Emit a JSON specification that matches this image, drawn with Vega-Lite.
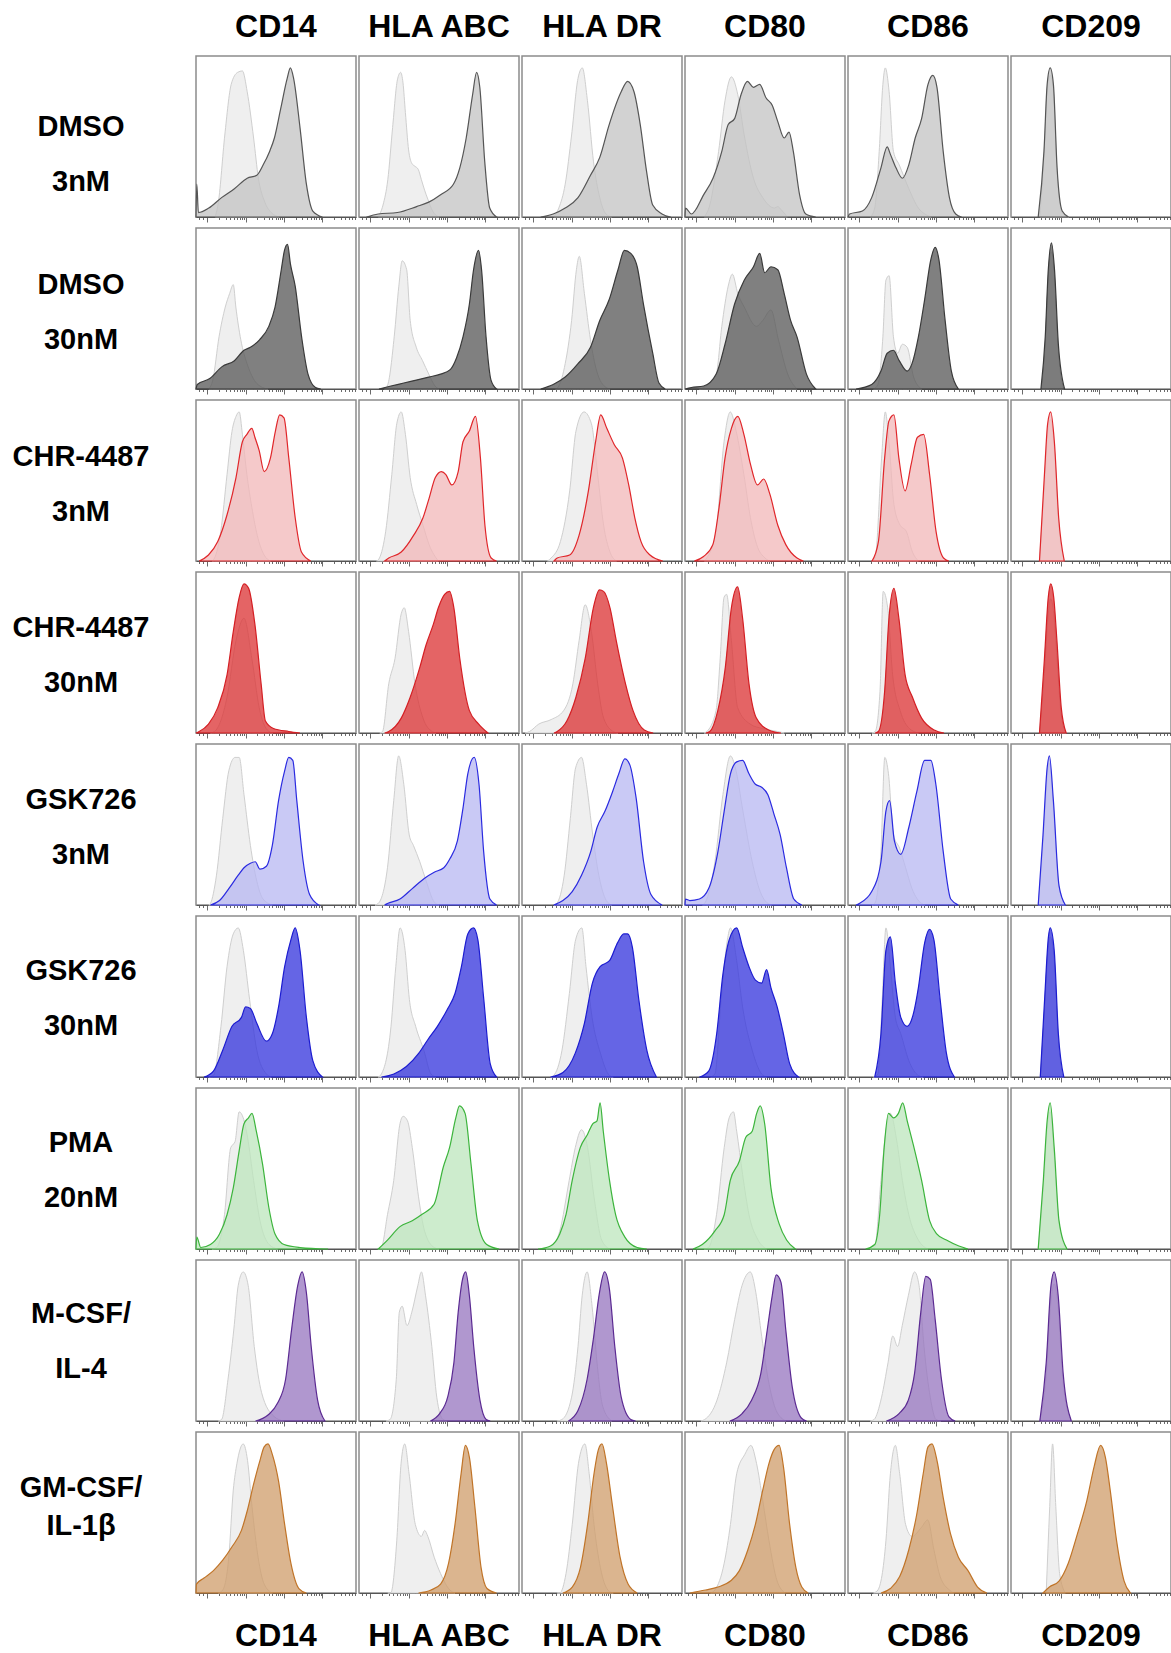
{
"$schema": "https://vega.github.io/schema/vega-lite/v6.json",
"background": "white",
"padding": {"left": 1, "top": 11, "right": 0, "bottom": 0},
"config": {"font": "Liberation Sans", "view": {"stroke": "#8c8c8c", "strokeWidth": 1.5}},
"datasets": {
"h": [
{"c":"D3","m":"CD14","s":"k","x":[12,14,18,22,26,29,32,36,39,43,47,52],"y":[0,10,55,89,97,98,84,53,26,10,3,0]},
{"c":"D3","m":"CD14","s":"t","x":[0,0.5,1.5,8,16,24,32,38,42,46,49,53,57,59,61,65,69,73,79],"y":[0,22,3,6,13,19,26,28,35,44,53,73,93,100,93,60,22,4,0]},
{"c":"D3","m":"HLA ABC","s":"k","x":[12,15,18,21,24,26,27.5,29,31,33,35,37,39,41,43,46,50],"y":[0,8,25,60,92,97,90,70,45,36,34,32,25,18,12,4,0]},
{"c":"D3","m":"HLA ABC","s":"t","x":[4.7,12,24,36,43.6,51,59,63,67,71,73.5,75.5,78.6,81.7,86],"y":[0,2,3,7,10,15,22,33,53,82,97,87,37,6,0]},
{"c":"D3","m":"HLA DR","s":"k","x":[20,23,27,31,35,37.7,40.9,44.7,48.6,52.5,56],"y":[0,6,22,55,93,100,78,37,13,2,0]},
{"c":"D3","m":"HLA DR","s":"t","x":[11.7,19.5,27,35,42.8,48.6,54.5,62,66,70,73.9,77.8,81.7,87.5,93],"y":[0,2,6,13,28,40,62,84,91,84,62,31,8,2,0]},
{"c":"D3","m":"CD80","s":"k","x":[12,15.5,21,25,29,33,37,42.8,48.6,56,58,60,64],"y":[0,8,44,78,94,82,55,26,13,6,7,5,0]},
{"c":"D3","m":"CD80","s":"t","x":[0,0.3,4,11.7,17.5,23,27,31,35,39,42.8,46.7,50.6,54.5,58,62,65,67.7,71.6,75.5,81.7],"y":[0,6,2,15,26,44,62,66,82,91,87,89,80,75,64,53,57,44,15,2,0]},
{"c":"D3","m":"CD86","s":"k","x":[14,16.7,19.5,21.8,23.3,25.7,28.4,32,38,44,48,52],"y":[0,6,44,89,100,84,44,35,19,6,2,0]},
{"c":"D3","m":"CD86","s":"t","x":[0,1,9,14.8,20.6,24.5,26.5,30,34,38,42,46,50,53,55.6,59.5,63.4,67.3,71],"y":[0,2,4,13,33,47,42,33,26,35,53,66,89,95,87,44,13,2,0]},
{"c":"D3","m":"CD209","s":"k","x":[18,20.6,22.6,24.5,26.5,28.8,32,36],"y":[0,40,85,95,85,30,3,0]},
{"c":"D3","m":"CD209","s":"t","x":[17,20.6,22.6,24.5,26.5,28.8,32,36],"y":[0,44,89,100,89,33,4,0]},
{"c":"D30","m":"CD14","s":"k","x":[8,10.5,14.4,18.3,21,23.3,24.9,28,31.9,35.8,41.6,45],"y":[0,6,35,55,64,70,55,33,17,7,1,0]},
{"c":"D30","m":"CD14","s":"t","x":[0,0.8,8.6,16.3,24,30,34,39.7,45.5,49.4,53.3,55.3,57.2,59,62,66,70,74.7,78],"y":[0,3,7,15,19,26,28,33,42,55,80,93,97,84,69,35,10,1,0]},
{"c":"D30","m":"HLA ABC","s":"k","x":[16,18,22,24.9,27,29.8,32,35.8,39.7,43.6,47.5,50],"y":[0,3,35,69,86,80,46,28,19,10,2,0]},
{"c":"D30","m":"HLA ABC","s":"t","x":[12.5,20,28,35.8,43.6,51,57,61,65,69,71.6,74.7,76.6,79.4,82.5,86],"y":[0,2,4,6,8,10,13,21,35,57,80,93,80,35,6,0]},
{"c":"D30","m":"HLA DR","s":"k","x":[21,23,27,31,34,35.8,39,42.8,46.7,52.5,55],"y":[0,2,17,46,80,89,64,33,12,1,0]},
{"c":"D30","m":"HLA DR","s":"t","x":[11.7,19.5,27,35,42.8,48.6,54.5,60,64,68,72,75.9,81.7,85.6,89.5],"y":[0,3,8,17,28,46,60,80,93,91,82,57,24,4,0]},
{"c":"D30","m":"CD80","s":"k","x":[9,11.7,19.5,23,27,29.6,33,37,44.7,48.6,53.7,58.4,64.2,70],"y":[0,1,10,42,69,77,64,55,42,46,53,33,10,0]},
{"c":"D30","m":"CD80","s":"t","x":[0,4,11.7,19.5,25,31,37,42.8,46.7,49.8,53.7,58,62,66,70,75.9,81.7],"y":[0,1,2,10,30,57,73,82,91,78,82,80,64,46,35,10,0]},
{"c":"D30","m":"CD86","s":"k","x":[16,18.7,21.8,23.7,25.7,28.4,31,34,37,41,46],"y":[0,3,35,73,76,35,24,30,28,8,0]},
{"c":"D30","m":"CD86","s":"t","x":[5,14.8,20.6,24.5,28.4,32,37,40,44,47.9,51.8,54.5,56.8,60.7,64.6,69],"y":[0,3,12,24,26,19,12,17,35,60,87,95,87,46,12,0]},
{"c":"D30","m":"CD209","s":"k","x":[19,21.4,23.3,25.3,27.2,29.6,33],"y":[0,30,75,92,75,25,0]},
{"c":"D30","m":"CD209","s":"t","x":[18.7,21.4,23.3,25.3,27.2,29.6,33.5],"y":[0,35,80,98,80,30,0]},
{"c":"C3","m":"CD14","s":"k","x":[10,11.6,15.5,19.4,22.5,25,27,29,31.8,34.9,38.8,42.6,46.5],"y":[0,2,20,58,87,97,100,85,58,36,15,4,0]},
{"c":"C3","m":"CD14","s":"t","x":[2,7.8,13.6,19.4,25,29,31.8,34.9,36.8,39.5,42.6,46.5,49.6,52.3,55,58,62,65.9,71.7],"y":[0,4,13,31,56,80,85,89,83,74,60,69,87,98,96,69,29,6,0]},
{"c":"C3","m":"HLA ABC","s":"k","x":[11,12.8,16.7,20.5,23.6,26.4,29,32,36,40,43.8,49.6],"y":[0,2,20,58,92,100,85,56,38,24,11,0]},
{"c":"C3","m":"HLA ABC","s":"t","x":[16,18.6,26.4,34,40,43.8,47.7,51.5,54.3,58,62,65,68.9,72.8,75.9,78.7,82.6,86],"y":[0,2,6,17,29,42,56,60,58,51,60,80,87,97,69,24,2,0]},
{"c":"C3","m":"HLA DR","s":"k","x":[16,18.2,24,29.8,33.7,38.8,43.4,47.3,51,55,59],"y":[0,2,13,47,87,100,92,58,24,6,0]},
{"c":"C3","m":"HLA DR","s":"t","x":[20,22,29.8,35.6,41.5,46,49.2,53,57.7,62.8,66.7,70.5,74.4,80,88],"y":[0,2,4,17,47,80,98,89,78,69,51,29,13,4,0]},
{"c":"C3","m":"CD80","s":"k","x":[12,13.6,19.4,24.4,28.3,32,36.8,40.9,44.8,50,53],"y":[0,2,20,80,100,87,58,29,11,2,0]},
{"c":"C3","m":"CD80","s":"t","x":[5.8,11.6,17.4,21.3,25,29,33,36.8,40.9,45.3,49.2,53,58,63,70,74],"y":[0,3,11,36,69,89,97,85,65,51,55,45,24,11,2,0]},
{"c":"C3","m":"CD86","s":"k","x":[15,17,21,23.3,25.6,28.7,32.6,36.4,40.3,44],"y":[0,2,69,100,80,38,24,20,6,0]},
{"c":"C3","m":"CD86","s":"t","x":[15,19,22.9,25.6,28.7,31.8,35.7,39.5,43.4,47.3,51,55,59.7,63],"y":[0,13,69,94,98,69,47,65,83,85,58,20,2,0]},
{"c":"C3","m":"CD209","s":"k","x":[17.8,20.9,22.9,24.8,27.1,29.8,33.3],"y":[0,50,85,95,75,25,0]},
{"c":"C3","m":"CD209","s":"t","x":[17.8,20.9,22.9,24.8,27.1,29.8,33.3],"y":[0,58,92,100,80,29,0]},
{"c":"C30","m":"CD14","s":"k","x":[9,11.6,19.4,25,30,34.9,39.5,44.6,48],"y":[0,1,24,62,77,50,17,2,0]},
{"c":"C30","m":"CD14","s":"t","x":[0,2,7.8,13.6,19.4,23.3,27,30,32.9,36.8,40.7,43.4,48.4,58,65],"y":[0,1,6,17,39,68,91,100,97,73,33,8,3,1,0]},
{"c":"C30","m":"HLA ABC","s":"k","x":[13,14.7,18.6,22.5,26.4,28.3,31,35,40,45.7,48],"y":[0,1,33,50,80,84,68,33,10,1,0]},
{"c":"C30","m":"HLA ABC","s":"t","x":[16,18.6,26.4,32,38,41.9,46.5,49.6,53.5,56.6,59.3,63,69,74.8,80.6],"y":[0,1,10,24,44,59,73,84,93,95,84,50,15,6,0]},
{"c":"C30","m":"HLA DR","s":"k","x":[2,4.7,10.5,18.2,26,31.8,35.7,39.5,43.4,47.3,51,57,60],"y":[0,1,6,9,15,33,62,86,68,33,10,1,0]},
{"c":"C30","m":"HLA DR","s":"t","x":[20,22,28,33.7,39.5,44.6,48.4,51,55,58.9,64.7,69.4,76.4,82],"y":[0,1,8,24,50,84,96,95,84,62,33,15,2,0]},
{"c":"C30","m":"CD80","s":"k","x":[12,13.6,19.4,22,24.4,26,29,32.9,40.7,48.4,58,62],"y":[0,1,15,50,91,93,62,17,6,3,1,0]},
{"c":"C30","m":"CD80","s":"t","x":[13,15.5,20.5,25.2,29,32.9,36,40,44.6,52.3,60],"y":[0,1,15,44,84,98,77,33,10,2,0]},
{"c":"C30","m":"CD86","s":"k","x":[15,17,20,22,24.8,27.9,32.6,38.4,44],"y":[0,1,28,95,84,39,15,3,0]},
{"c":"C30","m":"CD86","s":"t","x":[17,19,22.9,25.6,28.7,31.8,35.7,40.3,46,53.9,60],"y":[0,1,28,77,97,77,39,24,10,2,0]},
{"c":"C30","m":"CD209","s":"k","x":[17.8,20.9,23.3,24.8,26.7,28.7,31.4,34.5],"y":[0,40,80,90,80,50,12,0]},
{"c":"C30","m":"CD209","s":"t","x":[17.8,20.9,23.3,24.8,26.7,28.7,31.4,34.5],"y":[0,50,91,100,91,62,17,0]},
{"c":"G3","m":"CD14","s":"k","x":[8,9,12.8,16.7,20.5,24.4,27,30,34,38,41.9,47.7],"y":[0,1,20,58,90,99,99,74,40,16,4,0]},
{"c":"G3","m":"CD14","s":"t","x":[9,14.7,20.5,26.4,30,34,37,40,44,47.7,51.6,55.4,58,60.5,63,67,71,76.7],"y":[0,3,11,20,25,28,29,24,26,40,70,90,99,97,70,29,7,0]},
{"c":"G3","m":"HLA ABC","s":"k","x":[10,12,17.8,21.7,24.8,28,31.4,34,38,42,47,50],"y":[0,1,25,70,100,81,47,40,29,16,2,0]},
{"c":"G3","m":"HLA ABC","s":"t","x":[16,17.8,25.6,33.3,41,47,53,56.8,61.5,65,68,72,75,77.9,81.8,86],"y":[0,1,4,11,18,22,25,31,43,65,88,99,81,36,4,0]},
{"c":"G3","m":"HLA DR","s":"k","x":[20,21.7,26.4,30.2,33.5,37.2,40.3,44.2,48,52.7,56],"y":[0,1,20,58,92,99,81,47,20,3,0]},
{"c":"G3","m":"HLA DR","s":"t","x":[19.8,25.6,31.4,37.2,43,46.9,51.9,56.6,60.5,64.3,67.4,71.3,76,80.6,87.6],"y":[0,3,9,20,36,52,63,76,88,98,94,72,29,7,0]},
{"c":"G3","m":"CD80","s":"k","x":[11,12.8,18.7,23.7,28.4,31.5,36.2,42,47,51.8,54],"y":[0,2,29,74,100,92,63,29,9,1,0]},
{"c":"G3","m":"CD80","s":"t","x":[0,0.3,3,9,14.8,20.6,24.5,28.4,32.3,36,40,44,47.9,51.8,55.6,59.5,63.4,68,73],"y":[0,4,3,4,11,36,63,88,96,97,88,81,79,74,61,47,25,4,0]},
{"c":"G3","m":"CD86","s":"k","x":[15,16.7,20.6,23,25.3,28.4,32.3,36,40,46,48],"y":[0,1,36,99,88,47,38,25,11,1,0]},
{"c":"G3","m":"CD86","s":"t","x":[5,7,14.8,20.6,23.7,26,29,33,38,43,47.9,51.8,54.9,59.5,64.2,69],"y":[0,1,9,29,63,70,43,34,52,76,97,97,81,36,4,0]},
{"c":"G3","m":"CD209","s":"k","x":[17,20,22.6,24,26.5,30,34],"y":[0,40,85,95,65,12,0]},
{"c":"G3","m":"CD209","s":"t","x":[17,20,22.6,24,26.5,30,34],"y":[0,47,92,100,70,13,0]},
{"c":"G30","m":"CD14","s":"k","x":[8,10.9,15.6,19.4,23.3,26.4,29.6,33.5,38,44,47],"y":[0,1,34,74,96,100,85,52,18,2,0]},
{"c":"G30","m":"CD14","s":"t","x":[5,10.9,16.7,22.5,28.4,31,34,38,44,47.7,51.6,55.4,59.3,62,65,69,73,79],"y":[0,4,18,34,40,47,46,36,24,29,47,74,92,100,85,40,11,0]},
{"c":"G30","m":"HLA ABC","s":"k","x":[12,14,20,23,25.7,28.8,31.5,35.4,40.5,45,48],"y":[0,2,34,74,100,85,52,34,18,2,0]},
{"c":"G30","m":"HLA ABC","s":"t","x":[14,21.8,29.6,37.4,43,49,55,60,64,68,71.6,74.3,78,82,86],"y":[0,2,7,16,25,34,45,56,74,96,100,92,52,9,0]},
{"c":"G30","m":"HLA DR","s":"k","x":[18,19.8,25,29.6,33.5,37.4,40,43.8,49,54.7,57],"y":[0,1,18,56,92,100,74,40,16,1,0]},
{"c":"G30","m":"HLA DR","s":"t","x":[17.8,25.6,33.3,39,44,48.8,54.7,59.7,63.6,66,69,73,78,84],"y":[0,3,16,36,63,74,78,90,96,96,87,52,18,0]},
{"c":"G30","m":"CD80","s":"k","x":[16,18.7,22.6,26.5,28.4,32.3,36,42,47.9,51],"y":[0,2,52,92,100,78,47,18,2,0]},
{"c":"G30","m":"CD80","s":"t","x":[9,14.8,19.8,23.7,27.6,32.3,36,40,44,47.9,51,53.7,57.6,61.5,65.4,71],"y":[0,4,29,69,92,100,87,74,65,63,72,60,47,29,9,0]},
{"c":"G30","m":"CD86","s":"k","x":[16,18.7,21.4,23.7,26.5,29.6,33,38,44,47],"y":[0,2,52,100,74,40,29,11,1,0]},
{"c":"G30","m":"CD86","s":"t","x":[16.7,20.6,23.7,26.5,29.6,33,37,41,44,47.9,51,53.7,57.6,61.5,66.5],"y":[0,29,85,94,63,40,34,43,60,90,99,92,52,16,0]},
{"c":"G30","m":"CD209","s":"k","x":[18.3,21,23.4,24.5,27,29.6,33],"y":[0,45,88,94,78,25,0]},
{"c":"G30","m":"CD209","s":"t","x":[18.3,21,23.4,24.5,27,29.6,33],"y":[0,52,94,100,85,29,0]},
{"c":"P","m":"CD14","s":"k","x":[10,12.8,17.8,21.7,24.4,27,29.5,32.2,36,40,45.7,51],"y":[0,1,23,68,72,92,88,75,46,19,3,0]},
{"c":"P","m":"CD14","s":"t","x":[0,0.5,3,9,14.7,19.4,23.3,27,30,32.8,35,37.7,41.6,45.5,49.4,55,65,82.6],"y":[0,8,1,3,10,23,41,66,84,88,91,79,57,28,10,3,1,0]},
{"c":"P","m":"HLA ABC","s":"k","x":[12,14,17.8,21.7,25.6,27.6,30.3,33.3,37.2,41,47,50],"y":[0,1,23,46,84,89,86,68,35,12,1,0]},
{"c":"P","m":"HLA ABC","s":"t","x":[12,17.8,25.6,33.3,39,46.9,52.7,56.6,60.5,62.8,66.3,70,74,79.8,87.6],"y":[0,6,15,19,23,30,55,68,88,96,91,57,19,3,0]},
{"c":"P","m":"HLA DR","s":"k","x":[15,17.8,23.6,29.5,33.3,37.2,41,45,49.8,54.8],"y":[0,1,12,46,68,80,68,35,6,0]},
{"c":"P","m":"HLA DR","s":"t","x":[10,17.8,23.6,27.5,31.4,36.4,41,44.2,46.9,48.8,50.8,54.7,58.5,64.3,72,78],"y":[0,2,10,23,46,68,77,84,86,98,79,46,23,8,1,0]},
{"c":"P","m":"CD80","s":"k","x":[12,14.7,19.7,24.5,27.6,30.3,32.3,36,40,45.7,51],"y":[0,1,23,68,88,92,79,50,23,6,0]},
{"c":"P","m":"CD80","s":"t","x":[5,10.8,18.6,24.5,28.3,34,38,42,44.8,47,49.8,53.7,58.8,63.5,69],"y":[0,3,12,23,46,59,75,79,91,96,84,41,17,6,0]},
{"c":"P","m":"CD86","s":"k","x":[14,16.7,20.6,23.7,26.5,30.4,34,38,44,50],"y":[0,1,46,79,91,73,46,23,6,0]},
{"c":"P","m":"CD86","s":"t","x":[11,16.7,19.8,22.6,25.3,28.4,31.5,34.2,37,40.8,46,51,55.6,61.5,69.3,75],"y":[0,3,23,68,91,88,91,98,86,70,46,19,10,6,2,0]},
{"c":"P","m":"CD209","s":"k","x":[17,20.2,22.6,24.5,27,30,35],"y":[0,40,80,92,62,17,0]},
{"c":"P","m":"CD209","s":"t","x":[17,20.2,22.6,24.5,27,30,35],"y":[0,46,86,98,68,19,0]},
{"c":"M","m":"CD14","s":"k","x":[14,16,20,23.6,26.4,29.5,32.6,36.4,41,48.8,54.7],"y":[0,1,28,61,91,100,91,50,19,3,0]},
{"c":"M","m":"CD14","s":"t","x":[37.2,45,51,56,59.7,63.6,66.3,69,72,76,80.6],"y":[0,4,12,28,61,91,100,86,50,14,0]},
{"c":"M","m":"HLA ABC","s":"k","x":[17,19.4,23.3,25.2,27,30,33,36.8,39,41.6,45.5,48.6,52.5,55],"y":[0,1,28,73,77,64,73,91,100,84,50,16,1,0]},
{"c":"M","m":"HLA ABC","s":"t","x":[44.6,50.4,55.4,59.3,62,64.7,66.7,69,71.7,75.6,79.5,82],"y":[0,5,16,39,73,95,100,84,50,14,1,0]},
{"c":"M","m":"HLA DR","s":"k","x":[22,25,31,35,37.6,40.7,43.8,46.9,50.4,56],"y":[0,1,16,50,84,100,77,39,10,0]},
{"c":"M","m":"HLA DR","s":"t","x":[29,35,40.7,44.6,48.4,51.6,54.7,58,62,68,71],"y":[0,7,28,55,86,100,88,50,16,1,0]},
{"c":"M","m":"CD80","s":"k","x":[10,12.3,20,26,31,35.7,40.8,44.3,47.4,52,57,63],"y":[0,1,14,39,68,91,100,86,61,28,7,0]},
{"c":"M","m":"CD80","s":"t","x":[28,35.7,41.6,47.4,51.4,54.5,57,60,63,67,72.7,76],"y":[0,5,14,32,61,84,98,93,61,23,2,0]},
{"c":"M","m":"CD86","s":"k","x":[14,16.3,21,25,28,31,33.9,37.7,41.6,44.4,47.5,51.4,55,58],"y":[0,1,16,39,57,50,64,84,100,91,50,16,1,0]},
{"c":"M","m":"CD86","s":"t","x":[24,31.9,37.7,41.6,45.5,48.6,51.4,54.5,58.4,63,67],"y":[0,5,14,32,73,97,95,68,28,3,0]},
{"c":"M","m":"CD209","s":"k","x":[18,22,25,27,29.5,32.6,37.7],"y":[0,30,80,92,75,25,0]},
{"c":"M","m":"CD209","s":"t","x":[18,22,25,27,29.5,32.6,37.7],"y":[0,39,91,100,84,32,0]},
{"c":"GM","m":"CD14","s":"k","x":[14,16.7,20.5,23.3,25.6,29.5,32.2,35,38.8,42.6,47.7],"y":[0,2,24,69,87,100,89,58,24,6,0]},
{"c":"GM","m":"CD14","s":"t","x":[0,0.3,5,10.9,16.7,22.5,28.4,32,36,40,42.6,45,47.7,51.6,55.4,59.3,64.3,69],"y":[0,6,10,15,22,31,42,55,73,89,98,100,93,75,46,20,3,0]},
{"c":"GM","m":"HLA ABC","s":"k","x":[18,19.8,23.6,26.3,28.6,31.3,35.2,39,41,43,47,51,56.8,60],"y":[0,0,35,87,100,80,46,38,42,38,24,13,2,0]},
{"c":"GM","m":"HLA ABC","s":"t","x":[37.2,45,51,56,60,63.8,66.5,69,72.4,76.3,80,86],"y":[0,2,6,20,46,80,99,91,58,17,3,0]},
{"c":"GM","m":"HLA DR","s":"k","x":[22,23.6,27.5,31.4,35.3,39.3,42,45,49,53.7,57],"y":[0,0,13,46,87,100,80,46,17,2,0]},
{"c":"GM","m":"HLA DR","s":"t","x":[25.5,31.4,36.5,41,45,47.7,50,52.8,56.6,61.3,66.3,72],"y":[0,4,17,46,80,96,100,87,58,24,6,0]},
{"c":"GM","m":"CD80","s":"k","x":[16,18.7,24.5,28.4,32.3,37.4,41.2,44.7,48.6,52.5,57.6,62.6],"y":[0,2,20,46,80,93,99,87,62,35,8,0]},
{"c":"GM","m":"CD80","s":"t","x":[3,12.8,20.6,28.4,34,39.3,44,48.6,52.5,55.6,58.8,61.5,65.4,69.3,73,77],"y":[0,2,4,8,15,29,46,69,87,96,99,85,46,17,4,0]},
{"c":"GM","m":"CD86","s":"k","x":[16,18.7,23.7,26.5,29.6,32.3,36,40,45.9,49.8,53.7,57.6,63.4,66],"y":[0,2,35,80,99,80,46,38,44,49,29,11,2,0]},
{"c":"GM","m":"CD86","s":"t","x":[20.6,26.5,32.3,38,43,47,50,52.5,55.6,59.5,64,69,75,81,86.8],"y":[0,3,11,29,53,80,98,100,89,64,40,24,15,4,0]},
{"c":"GM","m":"CD209","s":"k","x":[22,24.2,26,28,30.4,34],"y":[0,58,100,58,13,0]},
{"c":"GM","m":"CD209","s":"t","x":[20,24,30,35.8,41.6,47.4,52,56,59,62,66,70.7,74.6],"y":[0,4,8,20,40,62,85,99,91,69,35,8,0]}
],
"rl": [
{"c":"D3","k":"CD14","l":["DMSO","3nM"]},
{"c":"D30","k":"CD14","l":["DMSO","30nM"]},
{"c":"C3","k":"CD14","l":["CHR-4487","3nM"]},
{"c":"C30","k":"CD14","l":["CHR-4487","30nM"]},
{"c":"G3","k":"CD14","l":["GSK726","3nM"]},
{"c":"G30","k":"CD14","l":["GSK726","30nM"]},
{"c":"P","k":"CD14","l":["PMA","20nM"]},
{"c":"M","k":"CD14","l":["M-CSF/","IL-4"]},
{"c":"GM","k":"CD14","l":["GM-CSF/","IL-1β"]}
],
"lab": [
{"m":"CD14"},{"m":"HLA ABC"},{"m":"HLA DR"},{"m":"CD80"},{"m":"CD86"},{"m":"CD209"}
]
},
"spacing": 31,
"hconcat": [
{
"data": {"name": "rl"},
"facet": {
"row": {"field": "c", "type": "nominal", "title": null, "header": null, "sort": ["D3","D30","C3","C30","G3","G30","P","M","GM"]},
"column": {"field": "k", "type": "nominal", "title": null, "header": {"labelFont": "Liberation Sans", "labelFontWeight": "bold", "labelFontSize": 32, "labelPadding": 11, "labelColor": "transparent"}}
},
"spacing": {"row": 10.5},
"spec": {
"width": 160, "height": 161, "view": {"stroke": null},
"layer": [
{"transform": [{"filter": "datum.c != 'GM' && datum.c != 'D3'"}],
"mark": {"type": "text", "font": "Liberation Sans", "fontWeight": "bold", "fontSize": 29, "lineHeight": 55, "align": "center", "baseline": "middle", "color": "black"},
"encoding": {"text": {"field": "l", "type": "nominal"},
"x": {"datum": 0.5, "type": "quantitative", "scale": {"domain": [0, 1]}, "axis": null},
"y": {"datum": 0.64, "type": "quantitative", "scale": {"domain": [0, 1]}, "axis": null}}},
{"transform": [{"filter": "datum.c == 'D3'"}],
"mark": {"type": "text", "font": "Liberation Sans", "fontWeight": "bold", "fontSize": 29, "lineHeight": 55, "align": "center", "baseline": "middle", "color": "black"},
"encoding": {"text": {"field": "l", "type": "nominal"},
"x": {"datum": 0.5, "type": "quantitative", "scale": {"domain": [0, 1]}, "axis": null},
"y": {"datum": 0.56, "type": "quantitative", "scale": {"domain": [0, 1]}, "axis": null}}},
{"transform": [{"filter": "datum.c == 'GM'"}],
"mark": {"type": "text", "font": "Liberation Sans", "fontWeight": "bold", "fontSize": 29, "lineHeight": 38, "align": "center", "baseline": "middle", "color": "black"},
"encoding": {"text": {"field": "l", "type": "nominal"},
"x": {"datum": 0.5, "type": "quantitative", "scale": {"domain": [0, 1]}, "axis": null},
"y": {"datum": 0.627, "type": "quantitative", "scale": {"domain": [0, 1]}, "axis": null}}}
]
}
},
{
"spacing": 20,
"vconcat": [
{
"data": {"name": "h"},
"transform": [{"flatten": ["x", "y"]}],
"facet": {
"row": {"field": "c", "type": "nominal", "title": null, "header": null, "sort": ["D3","D30","C3","C30","G3","G30","P","M","GM"]},
"column": {"field": "m", "type": "nominal", "title": null, "sort": ["CD14","HLA ABC","HLA DR","CD80","CD86","CD209"],
"header": {"labelFont": "Liberation Sans", "labelFontWeight": "bold", "labelFontSize": 32, "labelPadding": 11, "labelColor": "black"}}
},
"spacing": {"row": 3, "column": -2},
"spec": {
"width": 160, "height": 161,
"layer": [
{"transform": [{"filter": "datum.s == 'k'"}],
"mark": {"type": "area", "interpolate": "monotone", "fill": "#efefef", "stroke": "#cfcfcf", "strokeWidth": 1},
"encoding": {
"x": {"field": "x", "type": "quantitative", "scale": {"domain": [0, 100], "nice": false, "zero": false}, "axis": {"title": null, "labels": false, "grid": false, "values": [2,4.5,7,14.2,18.5,21.4,23.8,25.7,27.3,28.7,29.9,31,38.2,42.5,45.4,47.8,49.7,51.3,52.7,53.9,55,62.2,66.5,69.4,71.8,73.7,75.3,76.7,77.9,79,86.2,90.5,93.4,95.8,97.7,99.3], "tickSize": {"condition": {"test": "indexof([7,31,55,79], datum.value) >= 0", "value": 5}, "value": 2.5}, "tickColor": "#444", "tickWidth": 0.8, "domainColor": "#555", "domainWidth": 1}},
"y": {"field": "y", "type": "quantitative", "scale": {"domain": [0, 108], "nice": false}, "axis": null}
}},
{"transform": [{"filter": "datum.s == 't'"}],
"mark": {"type": "area", "interpolate": "monotone", "fillOpacity": 0.75, "strokeWidth": 1.2},
"encoding": {
"x": {"field": "x", "type": "quantitative", "scale": {"domain": [0, 100], "nice": false, "zero": false}, "axis": {"title": null, "labels": false, "grid": false, "values": [2,4.5,7,14.2,18.5,21.4,23.8,25.7,27.3,28.7,29.9,31,38.2,42.5,45.4,47.8,49.7,51.3,52.7,53.9,55,62.2,66.5,69.4,71.8,73.7,75.3,76.7,77.9,79,86.2,90.5,93.4,95.8,97.7,99.3], "tickSize": {"condition": {"test": "indexof([7,31,55,79], datum.value) >= 0", "value": 5}, "value": 2.5}, "tickColor": "#444", "tickWidth": 0.8, "domainColor": "#555", "domainWidth": 1}},
"y": {"field": "y", "type": "quantitative", "scale": {"domain": [0, 108], "nice": false}, "axis": null},
"fill": {"field": "c", "type": "nominal", "legend": null, "scale": {"domain": ["D3","D30","C3","C30","G3","G30","P","M","GM"], "range": ["#c3c3c3","#565656","#f2b7b8","#db3032","#b7b7f2","#3232dc","#bce6bc","#9674bf","#cf9c6a"]}},
"stroke": {"field": "c", "type": "nominal", "legend": null, "scale": {"domain": ["D3","D30","C3","C30","G3","G30","P","M","GM"], "range": ["#555555","#3a3a3a","#e0262a","#d41f24","#2a2ae0","#1c1cd0","#3cb43c","#5b2a92","#c07428"]}}
}}
]
},
"resolve": {"axis": {"x": "independent"}}
},
{
"data": {"name": "lab"},
"facet": {
"column": {"field": "m", "type": "nominal", "title": null, "sort": ["CD14","HLA ABC","HLA DR","CD80","CD86","CD209"],
"header": {"labelFont": "Liberation Sans", "labelFontWeight": "bold", "labelFontSize": 32, "labelPadding": 0, "labelColor": "black"}}
},
"spacing": {"column": 3},
"spec": {"width": 160, "height": 1, "view": {"stroke": null}, "mark": {"type": "text", "text": ""}, "encoding": {}}
}
]
}
]
}
